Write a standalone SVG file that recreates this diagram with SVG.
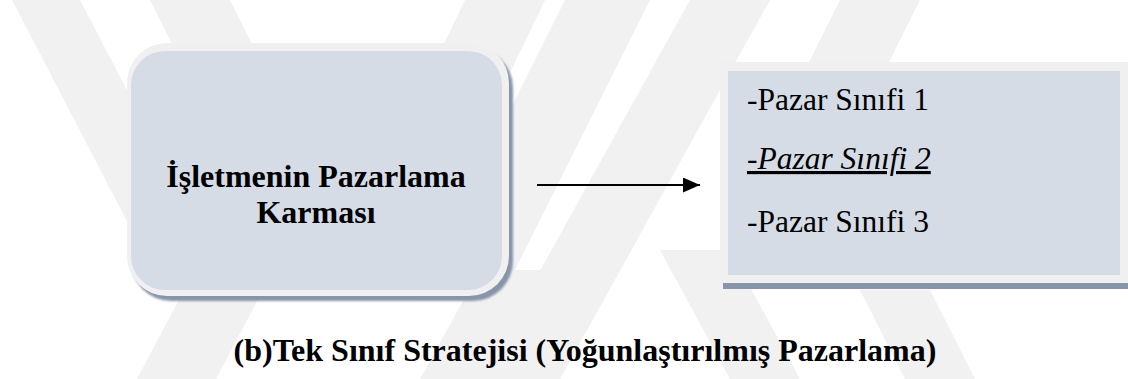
<svg xmlns="http://www.w3.org/2000/svg" width="1128" height="379" viewBox="0 0 1128 379">
  <defs>
    <style>
      .wm { fill: #f1f1f1; }
      text { font-family: 'Liberation Serif', 'DejaVu Serif', serif; fill: #000000; }
      .bold { font-weight: bold; font-size: 32px; }
      .item { font-size: 31.5px; }
      .fill { fill: #d5dce6; }
      .rim { fill: #f0f0f0; }
      .shadow { fill: #8794aa; }
    </style>
    <filter id="soft" x="-5%" y="-5%" width="110%" height="110%">
      <feGaussianBlur stdDeviation="1"/>
    </filter>
    <marker id="arrow" markerWidth="17" markerHeight="15" refX="17" refY="7.5" orient="auto" markerUnits="userSpaceOnUse">
      <path d="M0,0 L17,7.5 L0,15 Z" fill="#000"/>
    </marker>
  </defs>

  <rect x="0" y="0" width="1128" height="379" fill="#ffffff"/>

  <g id="watermark">
    <polygon class="wm" points="12,0 80,0 210,250 142,250"/>
    <polygon class="wm" points="150,0 230,0 330,200 250,200"/>
    <polygon class="wm" points="465,0 545,0 420,260 340,260"/>
    <polygon class="wm" points="565,0 650,0 500,300 415,300"/>
    <polygon class="wm" points="137,379 216,379 300,220 221,220"/>
    <polygon class="wm" points="420,379 500,379 560,270 480,270"/>
    <polygon class="wm" points="690,0 770,0 560,379 480,379"/>
    <polygon class="wm" points="660,250 730,250 800,379 730,379"/>
    <polygon class="wm" points="840,0 920,0 860,120 780,120"/>
    <polygon class="wm" points="860,290 930,290 975,379 905,379"/>
  </g>

  <g id="node-left">
    <rect class="shadow" x="131" y="48" width="382" height="253" rx="40" filter="url(#soft)"/>
    <rect class="rim" x="127" y="43" width="382" height="253" rx="40"/>
    <rect class="fill" x="131" y="51" width="371" height="239" rx="34"/>
    <text class="bold" font-family="Liberation Serif, DejaVu Serif, serif" x="316" y="187" text-anchor="middle">İşletmenin Pazarlama</text>
    <text class="bold" font-family="Liberation Serif, DejaVu Serif, serif" x="316" y="223" text-anchor="middle">Karması</text>
  </g>

  <g id="node-right">
    <rect class="shadow" x="723" y="283" width="405" height="6"/>
    <rect class="rim" x="720" y="62" width="408" height="221"/>
    <rect class="fill" x="728" y="71" width="392" height="204"/>
    <text class="item" font-family="Liberation Serif, DejaVu Serif, serif" x="747" y="110">-Pazar Sınıfi 1</text>
    <text class="item" font-family="Liberation Serif, DejaVu Serif, serif" x="747" y="169" font-style="italic" text-decoration="underline">-Pazar Sınıfi 2</text>
    <text class="item" font-family="Liberation Serif, DejaVu Serif, serif" x="747" y="232">-Pazar Sınıfi 3</text>
  </g>

  <g id="connectors">
    <line x1="537" y1="185" x2="700" y2="185" stroke="#000" stroke-width="2" marker-end="url(#arrow)"/>
  </g>

  <g id="caption">
    <text class="bold" font-family="Liberation Serif, DejaVu Serif, serif" x="585" y="361" text-anchor="middle">(b)Tek Sınıf Stratejisi (Yoğunlaştırılmış Pazarlama)</text>
  </g>
</svg>
